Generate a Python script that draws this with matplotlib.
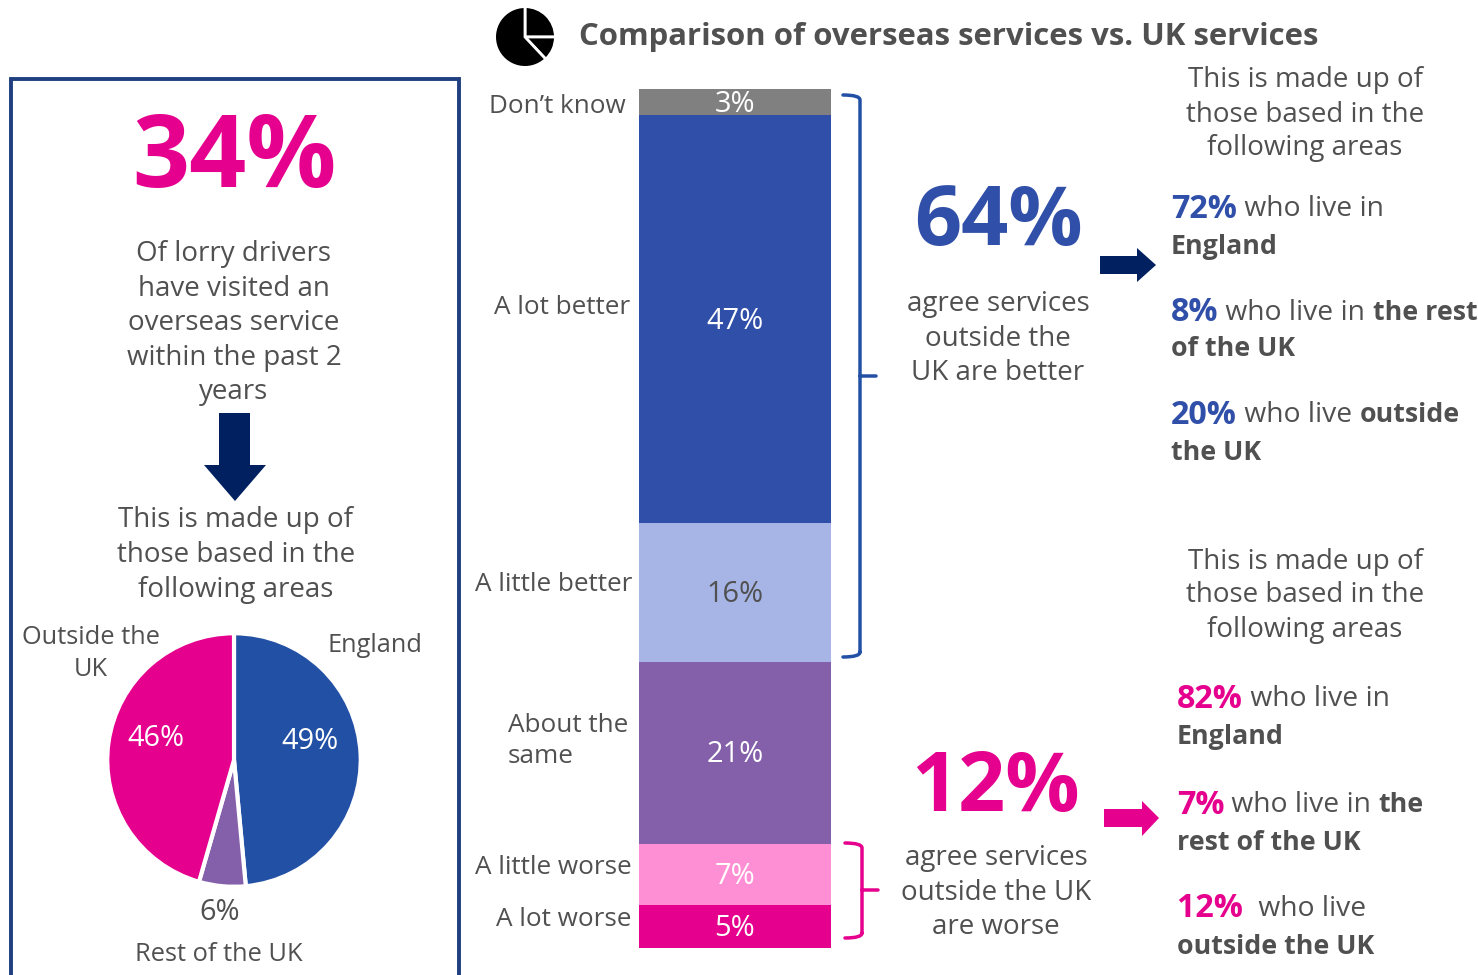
import matplotlib
matplotlib.use("Agg")
import matplotlib.pyplot as plt
from matplotlib.patches import Polygon, PathPatch
from matplotlib.path import Path

plt.rcParams['font.family'] = ['Open Sans', 'DejaVu Sans']

W, H = 1478, 975

# stacked bar, bottom to top
bar_labels = ["5%", "7%", "21%", "16%", "47%", "3%"]
bar_values = [5, 7, 21, 16, 47, 3]
bar_colors = ["#E6008E", "#FF8FD5", "#8460AA", "#A6B5E5", "#304FA8", "#808080"]
bar_text_colors = ["white", "white", "white", "#505050", "white", "white"]

# where lorry drivers who visited overseas are based
pie_names = ["England", "Rest of the UK", "Outside the UK"]
pie_values = [49, 6, 46]
pie_colors = ["#2250A5", "#8460AA", "#E6008E"]

GREY = "#505050"
BLUE = "#304FA8"
BRACE_BLUE = "#2250A5"
PINK = "#E6008E"
NAVY = "#002060"
FRAME = "#1F3F80"
BODY = 20.0
LABEL = 18.8
PIE_LABEL = 18.3
PCT = 20.9
NUM = 23.2
WHO = 20.3
BOLD = 19.3
DY = 2.5


def px_axes(x0, y0, x1, y1):
    return fig.add_axes([x0 / W, 1 - y1 / H, (x1 - x0) / W, (y1 - y0) / H])


def lines(x, ys, rows, size=BODY, color=GREY, ha="center"):
    for y, row in zip(ys, rows):
        top.text(x, y + DY, row, fontsize=size, color=color, ha=ha, va="center")


# one line of text with mixed weights, each piece starts where the last one ended
def mixed(x, y, pieces):
    renderer = fig.canvas.get_renderer()
    for txt, size, weight, color in pieces:
        t = top.text(x, y + DY, txt.replace(" ", "\u00a0"), fontsize=size, fontweight=weight,
                     color=color, ha="left", va="center")
        x += t.get_window_extent(renderer).width


def arrow_right(x0, x1, head_x, y0, y1, hy0, hy1, color):
    mid = (y0 + y1) / 2
    top.add_patch(Polygon([(x0, y0), (head_x, y0), (head_x, hy0), (x1, mid),
                           (head_x, hy1), (head_x, y1), (x0, y1)], color=color, lw=0))


def brace(x0, x1, x2, y0, ymid, y1, color):
    codes = [Path.MOVETO, Path.CURVE3, Path.CURVE3, Path.LINETO, Path.MOVETO, Path.LINETO,
             Path.MOVETO, Path.LINETO, Path.CURVE3, Path.CURVE3]
    verts = [(x0, y0), (x1, y0), (x1, y0 + 5), (x1, y1 - 5),
             (x1, ymid), (x2, ymid),
             (x1, y1 - 5), (x1, y1 - 5), (x1, y1), (x0, y1)]
    top.add_patch(PathPatch(Path(verts, codes), fill=False, edgecolor=color, lw=2.5,
                            capstyle="round"))


fig = plt.figure(figsize=(W / 100, H / 100), dpi=100, facecolor="white")

# stacked bar
ax = px_axes(639, 89, 831, 948)
bottom = 0
for val, lab, col, tc in zip(bar_values, bar_labels, bar_colors, bar_text_colors):
    ax.bar(0, val, width=1, bottom=bottom, color=col, linewidth=0)
    ax.annotate(lab, (0, bottom + val / 2), xytext=(0, -1.5), textcoords="offset points",
                color=tc, fontsize=PCT, ha="center", va="center")
    bottom += val
ax.set_xlim(-0.5, 0.5)
ax.set_ylim(0, bottom)
ax.axis("off")

# pie in the left panel
pax = px_axes(106, 632, 362, 888)
pax.pie(pie_values, colors=pie_colors, startangle=90, counterclock=False, radius=1,
        wedgeprops={"edgecolor": "white", "linewidth": 3})
pax.set_xlim(-1.01, 1.01)
pax.set_ylim(-1.01, 1.01)

# little pie icon next to the title
iax = px_axes(494, 6, 556, 68)
iax.pie([25, 13, 62], colors=["black"] * 3, startangle=90, counterclock=False, radius=1,
        wedgeprops={"edgecolor": "white", "linewidth": 2})
iax.set_xlim(-1.02, 1.02)
iax.set_ylim(-1.02, 1.02)

# overlay in pixel coordinates for all the annotation
top = fig.add_axes([0, 0, 1, 1], zorder=5)
top.set_xlim(0, W)
top.set_ylim(H, 0)
top.axis("off")
top.patch.set_alpha(0)

top.text(579, 37, "Comparison of overseas services vs. UK services", fontsize=22.4,
         fontweight="bold", color=GREY, ha="left", va="center")

# frame of the left panel, runs off the bottom
top.plot([11, 11, 459, 459], [H, 79, 79, H], color=FRAME, lw=2.8, solid_joinstyle="miter")

top.text(234, 161, "34%", fontsize=72, fontweight="bold", color=PINK, ha="center", va="center")
lines(234, [252, 286, 321, 355, 390],
      ["Of lorry drivers", "have visited an", "overseas service", "within the past 2", "years"])
top.add_patch(Polygon([(219, 413), (250, 413), (250, 465), (266, 465), (235, 501),
                       (204, 465), (219, 465)], color=NAVY, lw=0))
lines(236, [517, 552, 587],
      ["This is made up of", "those based in the", "following areas"])

# pie labels
lines(310, [739], ["49%"], size=PCT, color="white")
lines(156, [736], ["46%"], size=PCT, color="white")
lines(220, [910], ["6%"], size=PCT)
lines(375, [643], ["England"], size=PIE_LABEL)
lines(91, [635, 667], ["Outside the", "UK"], size=PIE_LABEL)
lines(219, [952], ["Rest of the UK"], size=PIE_LABEL)

# category names left of the bar
lines(626, [104], ["Don\u2019t know"], size=LABEL, ha="right")
lines(630, [305], ["A lot better"], size=LABEL, ha="right")
lines(632, [582], ["A little better"], size=LABEL, ha="right")
lines(508, [723, 754], ["About the", "same"], size=LABEL, ha="left")
lines(632, [865], ["A little worse"], size=LABEL, ha="right")
lines(631, [917], ["A lot worse"], size=LABEL, ha="right")

# braces and summaries
brace(843, 860, 876, 95, 376, 657, BRACE_BLUE)
brace(845, 862, 878, 843, 890, 938, PINK)

top.text(998, 224, "64%", fontsize=59.5, fontweight="bold", color=BLUE, ha="center", va="center")
lines(998, [301, 336, 370], ["agree services", "outside the", "UK are better"])
top.text(995, 790, "12%", fontsize=59.5, fontweight="bold", color=PINK, ha="center", va="center")
lines(996, [855, 890, 924], ["agree services", "outside the UK", "are worse"])

arrow_right(1100, 1156, 1137, 256, 274, 248, 282, NAVY)
arrow_right(1104, 1159, 1142, 809, 827, 801, 836, PINK)

# breakdown on the right
lines(1305, [77, 112, 146], ["This is made up of", "those based in the", "following areas"])
lines(1305, [559, 593, 628], ["This is made up of", "those based in the", "following areas"])

mixed(1171, 207, [("72%", NUM, "bold", BLUE), (" who live in", WHO, "normal", GREY)])
mixed(1171, 245, [("England", BOLD, "bold", GREY)])
mixed(1171, 310, [("8%", NUM, "bold", BLUE), (" who live in ", WHO, "normal", GREY),
                  ("the rest", BOLD, "bold", GREY)])
mixed(1171, 347, [("of the UK", BOLD, "bold", GREY)])
mixed(1171, 413, [("20%", NUM, "bold", BLUE), (" who live ", WHO, "normal", GREY),
                  ("outside", BOLD, "bold", GREY)])
mixed(1171, 450, [("the UK", BOLD, "bold", GREY)])

mixed(1177, 697, [("82%", NUM, "bold", PINK), (" who live in", WHO, "normal", GREY)])
mixed(1177, 734, [("England", BOLD, "bold", GREY)])
mixed(1177, 803, [("7%", NUM, "bold", PINK), (" who live in ", WHO, "normal", GREY),
                  ("the", BOLD, "bold", GREY)])
mixed(1177, 840, [("rest of the UK", BOLD, "bold", GREY)])
mixed(1177, 906, [("12% ", NUM, "bold", PINK), (" who live", WHO, "normal", GREY)])
mixed(1177, 944, [("outside the UK", BOLD, "bold", GREY)])

fig.savefig("out.png", dpi=100)
